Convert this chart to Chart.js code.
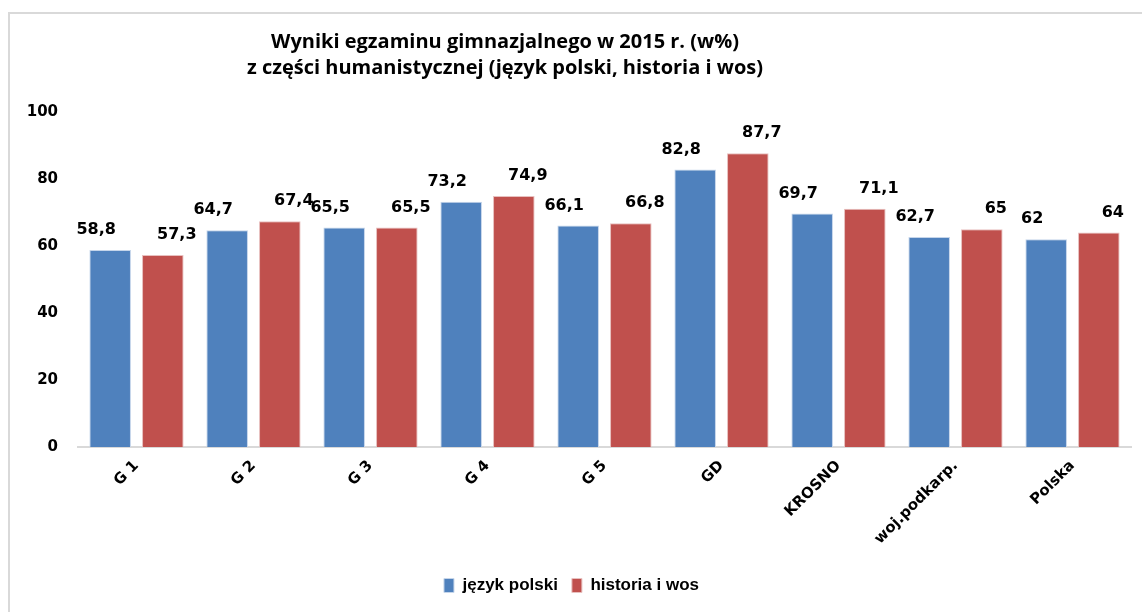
<!DOCTYPE html>
<html>
<head>
<meta charset="utf-8">
<style>
  html, body { margin: 0; padding: 0; background: #fff; }
  canvas { display: block; }
</style>
</head>
<body>
<canvas id="examChart" width="1142" height="612"></canvas>

<script src="https://cdn.jsdelivr.net/npm/chart.js"></script>

<script>
// dane z wykresu
const schools = ['G 1', 'G 2', 'G 3', 'G 4', 'G 5', 'GD', 'KROSNO', 'woj.podkarp.', 'Polska'];
const polski = [58.8, 64.7, 65.5, 73.2, 66.1, 82.8, 69.7, 62.7, 62];
const historia = [57.3, 67.4, 65.5, 74.9, 66.8, 87.7, 71.1, 65, 64];
const yTicks = [0, 20, 40, 60, 80, 100];
const titleLines = ['Wyniki egzaminu gimnazjalnego w 2015 r. (w%)',
                    'z części humanistycznej (język polski, historia i wos)'];

const fmt = v => String(v).replace('.', ',');

// ramka + tytuł
const framePlugin = {
  id: 'frame',
  beforeDraw(chart) {
    const c = chart.ctx;
    c.save();
    c.strokeStyle = '#d9d9d9';
    c.lineWidth = 2;
    c.strokeRect(9, 13, 1150, 620);
    c.restore();
  },
  afterDraw(chart) {
    const c = chart.ctx;
    c.save();
    c.fillStyle = '#000';
    c.font = 'bold 20px "Open Sans", sans-serif';
    c.textAlign = 'center';
    c.textBaseline = 'middle';
    c.fillText(titleLines[0], 505, 42);
    c.fillText(titleLines[1], 505, 68);
    c.restore();
  }
};

// etykiety wartości nad słupkami
const labelPlugin = {
  id: 'barLabels',
  afterDatasetsDraw(chart) {
    const c = chart.ctx;
    c.save();
    c.font = 'bold 16px "DejaVu Sans", sans-serif';
    c.fillStyle = '#000';
    c.textAlign = 'center';
    c.textBaseline = 'middle';
    chart.data.datasets.forEach((ds, i) => {
      const meta = chart.getDatasetMeta(i);
      meta.data.forEach((bar, j) => {
        c.fillText(fmt(ds.data[j]), bar.x + ds.labelShift, bar.y - 20);
      });
    });
    c.restore();
  }
};

new Chart(document.getElementById('examChart').getContext('2d'), {
  type: 'bar',
  data: {
    labels: schools,
    datasets: [
      {
        label: 'język polski',
        data: polski,
        backgroundColor: '#4f81bd',
        borderColor: '#c5d5ea',
        borderWidth: 1,
        labelShift: -14
      },
      {
        label: 'historia i wos',
        data: historia,
        backgroundColor: '#c0504d',
        borderColor: '#e8c0bf',
        borderWidth: 1,
        labelShift: 14
      }
    ]
  },
  options: {
    responsive: false,
    animation: false,
    datasets: {
      bar: { categoryPercentage: 0.9, barPercentage: 0.79 }
    },
    layout: { padding: { top: 112, right: 11, bottom: 8, left: 12 } },
    plugins: {
      title: { display: false },
      tooltip: { enabled: false },
      legend: {
        position: 'bottom',
        labels: {
          color: '#000',
          boxWidth: 10,
          boxHeight: 14,
          padding: 14,
          font: { family: '"Liberation Sans", Arial, sans-serif', weight: 'bold', size: 17 }
        }
      }
    },
    scales: {
      x: {
        grid: { display: false, drawTicks: false },
        border: { display: true, color: '#d9d9d9', width: 2 },
        ticks: {
          color: '#000',
          minRotation: 45,
          maxRotation: 45,
          padding: 10,
          font: { family: '"DejaVu Sans", sans-serif', weight: 'bold', size: 15 }
        },
        afterFit(scale) { scale.height = 116; }
      },
      y: {
        min: 0,
        max: 100,
        grid: { display: false, drawTicks: false },
        border: { display: false },
        afterBuildTicks(scale) { scale.ticks = yTicks.map(v => ({ value: v })); },
        ticks: {
          color: '#000',
          padding: 20,
          font: { family: '"DejaVu Sans", sans-serif', weight: 'bold', size: 15 }
        },
        afterFit(scale) { scale.width = 66; }
      }
    }
  },
  plugins: [framePlugin, labelPlugin]
});
</script>
</body>
</html>
